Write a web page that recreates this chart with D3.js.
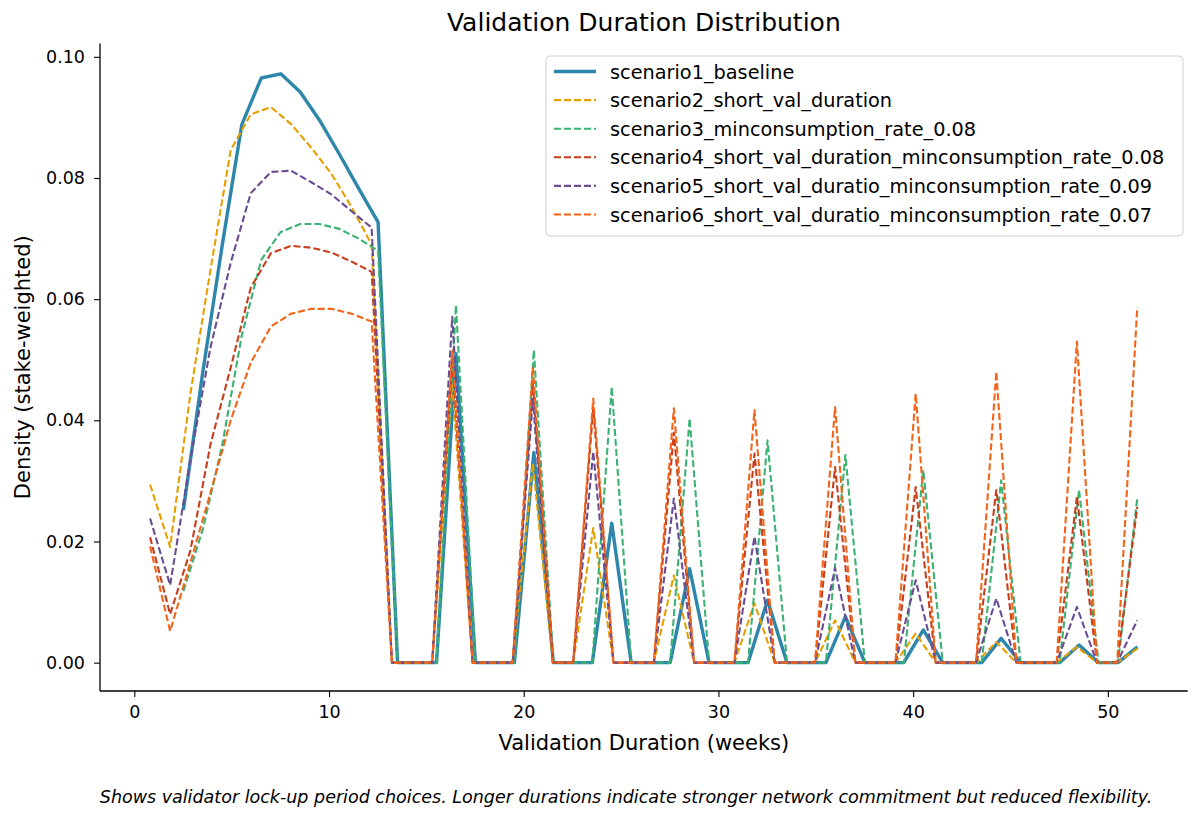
<!DOCTYPE html>
<html><head><meta charset="utf-8">
<script src="https://cdn.jsdelivr.net/npm/d3@7"></script>
<style>
body{margin:0;background:#fff;}
svg text{font-family:"DejaVu Sans",sans-serif;fill:#000;}
</style></head>
<body><svg id="c" width="1200" height="819"></svg>
<script>
const seriesNames = ["scenario1_baseline","scenario2_short_val_duration","scenario3_minconsumption_rate_0.08","scenario4_short_val_duration_minconsumption_rate_0.08","scenario5_short_val_duratio_minconsumption_rate_0.09","scenario6_short_val_duratio_minconsumption_rate_0.07"];
const seriesColors = ["#2E86AB","#E69F00","#3BB273","#C73E1D","#6A4C93","#F26419"];
const longX = [2.52,3.52,4.52,5.52,6.52,7.52,8.52,9.52,10.52,11.52,12.52,13.52,14.52,15.52,16.52,17.52,18.52,19.52,20.52,21.52,22.52,23.52,24.52,25.52,26.52,27.52,28.52,29.52,30.52,31.52,32.52,33.52,34.52,35.52,36.52,37.52,38.52,39.52,40.52,41.52,42.52,43.52,44.52,45.52,46.52,47.52,48.52,49.52,50.52,51.52];
const shortX = [0.81,1.84,2.88,3.91,4.95,5.98,7.02,8.05,9.09,10.12,11.16,12.19,13.23,14.26,15.30,16.33,17.37,18.40,19.43,20.47,21.50,22.54,23.57,24.61,25.64,26.68,27.71,28.75,29.78,30.82,31.85,32.89,33.92,34.96,35.99,37.03,38.06,39.09,40.13,41.16,42.20,43.23,44.27,45.30,46.34,47.37,48.41,49.44,50.48,51.51];
const s1 = [0.0252,0.048,0.069,0.0888,0.0965,0.0972,0.0942,0.0895,0.0840,0.0783,0.0727,0,0,0,0.051,0,0,0,0.0347,0,0,0,0.0230,0,0,0,0.0155,0,0,0,0.0103,0,0,0,0.0076,0,0,0,0.0054,0,0,0,0.0040,0,0,0,0.0029,0,0,0.0026];
const s2 = [0.0294,0.0191,0.0444,0.0648,0.0846,0.0905,0.0917,0.0889,0.0850,0.0807,0.0752,0.0690,0,0,0,0.046,0,0,0,0.0329,0,0,0.0222,0,0,0,0.0144,0,0,0,0.0098,0,0,0,0.0070,0,0,0,0.0048,0,0,0,0.0034,0,0,0,0.0026,0,0,0.0023];
const s3 = [0.0118,0.022,0.036,0.054,0.0665,0.0711,0.0724,0.0724,0.0716,0.0700,0.0680,0,0,0,0.0590,0,0,0,0.0516,0,0,0,0.0455,0,0,0,0.0403,0,0,0,0.0367,0,0,0,0.0343,0,0,0,0.0318,0,0,0,0.0301,0,0,0,0.0285,0,0,0.0274];
const s4 = [0.0207,0.0080,0.0185,0.036,0.0487,0.0619,0.0676,0.0688,0.0685,0.0677,0.0662,0.0645,0,0,0,0.050,0,0,0,0.046,0,0,0.042,0,0,0,0.038,0,0,0,0.0345,0,0,0,0.0323,0,0,0,0.0290,0,0,0,0.0285,0,0,0,0.0274,0,0,0.0257];
const s5 = [0.0238,0.0128,0.0335,0.052,0.066,0.0775,0.0810,0.0812,0.0793,0.0773,0.0745,0.0718,0,0,0,0.0571,0,0,0,0.0435,0,0,0.0348,0,0,0,0.0271,0,0,0,0.0208,0,0,0,0.0156,0,0,0,0.0136,0,0,0,0.0106,0,0,0,0.0092,0,0,0.0070];
const s6 = [0.0192,0.0052,0.0165,0.028,0.040,0.0495,0.0555,0.0576,0.0584,0.0584,0.0576,0.0563,0,0,0,0.0515,0,0,0,0.0488,0,0,0.0436,0,0,0,0.0420,0,0,0,0.0417,0,0,0,0.0422,0,0,0,0.0444,0,0,0,0.0480,0,0,0,0.0530,0,0,0.0587];
const xTicks = [0,10,20,30,40,50];
const yTicks = [0,0.02,0.04,0.06,0.08,0.10];

const series = [
  {name:seriesNames[0], xs:longX, ys:s1, color:seriesColors[0], dashed:false},
  {name:seriesNames[1], xs:shortX, ys:s2, color:seriesColors[1], dashed:true},
  {name:seriesNames[2], xs:longX, ys:s3, color:seriesColors[2], dashed:true},
  {name:seriesNames[3], xs:shortX, ys:s4, color:seriesColors[3], dashed:true},
  {name:seriesNames[4], xs:shortX, ys:s5, color:seriesColors[4], dashed:true},
  {name:seriesNames[5], xs:shortX, ys:s6, color:seriesColors[5], dashed:true}
];

const L=100, R=1187.7, T=43.5, B=691;
const x = d3.scaleLinear().domain([-1.762,54.10]).range([L,R]);
const y = d3.scaleLinear().domain([-0.00468,0.1022]).range([B,T]);
const svg = d3.select("#c");

svg.append("text").attr("x",(L+R)/2).attr("y",31).attr("text-anchor","middle")
  .style("font-size","25px").text("Validation Duration Distribution");

const gx = svg.append("g").attr("transform",`translate(0,${B})`)
  .call(d3.axisBottom(x).tickValues(xTicks).tickFormat(d3.format("d")).tickSizeOuter(0).tickSize(6).tickPadding(9));
const gy = svg.append("g").attr("transform",`translate(${L},0)`)
  .call(d3.axisLeft(y).tickValues(yTicks).tickFormat(d3.format(".2f")).tickSizeOuter(0).tickSize(6).tickPadding(9));
[gx,gy].forEach(g=>{
  g.select(".domain").attr("stroke","#000").attr("stroke-width",1.3);
  g.selectAll(".tick line").attr("stroke","#000").attr("stroke-width",1.1);
  g.selectAll(".tick text").style("font-size","17.5px").style("font-family","DejaVu Sans").attr("fill","#000");
});
gx.select(".domain").attr("d",`M${L},0H${R}`);
gy.select(".domain").attr("d",`M0,${B}V${T}`);

svg.append("text").attr("x",(L+R)/2).attr("y",750).attr("text-anchor","middle")
  .style("font-size","21px").text("Validation Duration (weeks)");
svg.append("text").attr("transform",`translate(30,${(T+B)/2}) rotate(-90)`).attr("text-anchor","middle")
  .style("font-size","21px").text("Density (stake-weighted)");

const line = d3.line().x(d=>x(d[0])).y(d=>y(d[1]));
const plot = svg.append("g");
series.forEach(s=>{
  const pts = s.xs.map((v,i)=>[v,s.ys[i]]);
  plot.append("path").datum(pts).attr("d",line).attr("fill","none")
    .attr("stroke",s.color).attr("stroke-width",s.dashed?2.1:3.4)
    .attr("stroke-dasharray",s.dashed?"7,3":null)
    .attr("stroke-linejoin","round");
});

const lg = svg.append("g");
lg.append("rect").attr("x",546).attr("y",56).attr("width",637).attr("height",180).attr("rx",4)
  .attr("fill","#fff").attr("fill-opacity",0.8).attr("stroke","#d0d0d0").attr("stroke-width",1);
series.forEach((s,i)=>{
  const yy = 71.5 + i*28.6;
  lg.append("line").attr("x1",554).attr("x2",596).attr("y1",yy).attr("y2",yy)
    .attr("stroke",s.color).attr("stroke-width",s.dashed?2.1:3.4).attr("stroke-dasharray",s.dashed?"7,3":null);
  lg.append("text").attr("x",610).attr("y",yy+7).style("font-size","19.3px").text(s.name);
});

svg.append("text").attr("x",626).attr("y",803).attr("text-anchor","middle")
  .style("font-size","17.5px").style("font-style","italic")
  .text("Shows validator lock-up period choices. Longer durations indicate stronger network commitment but reduced flexibility.");
</script></body></html>
